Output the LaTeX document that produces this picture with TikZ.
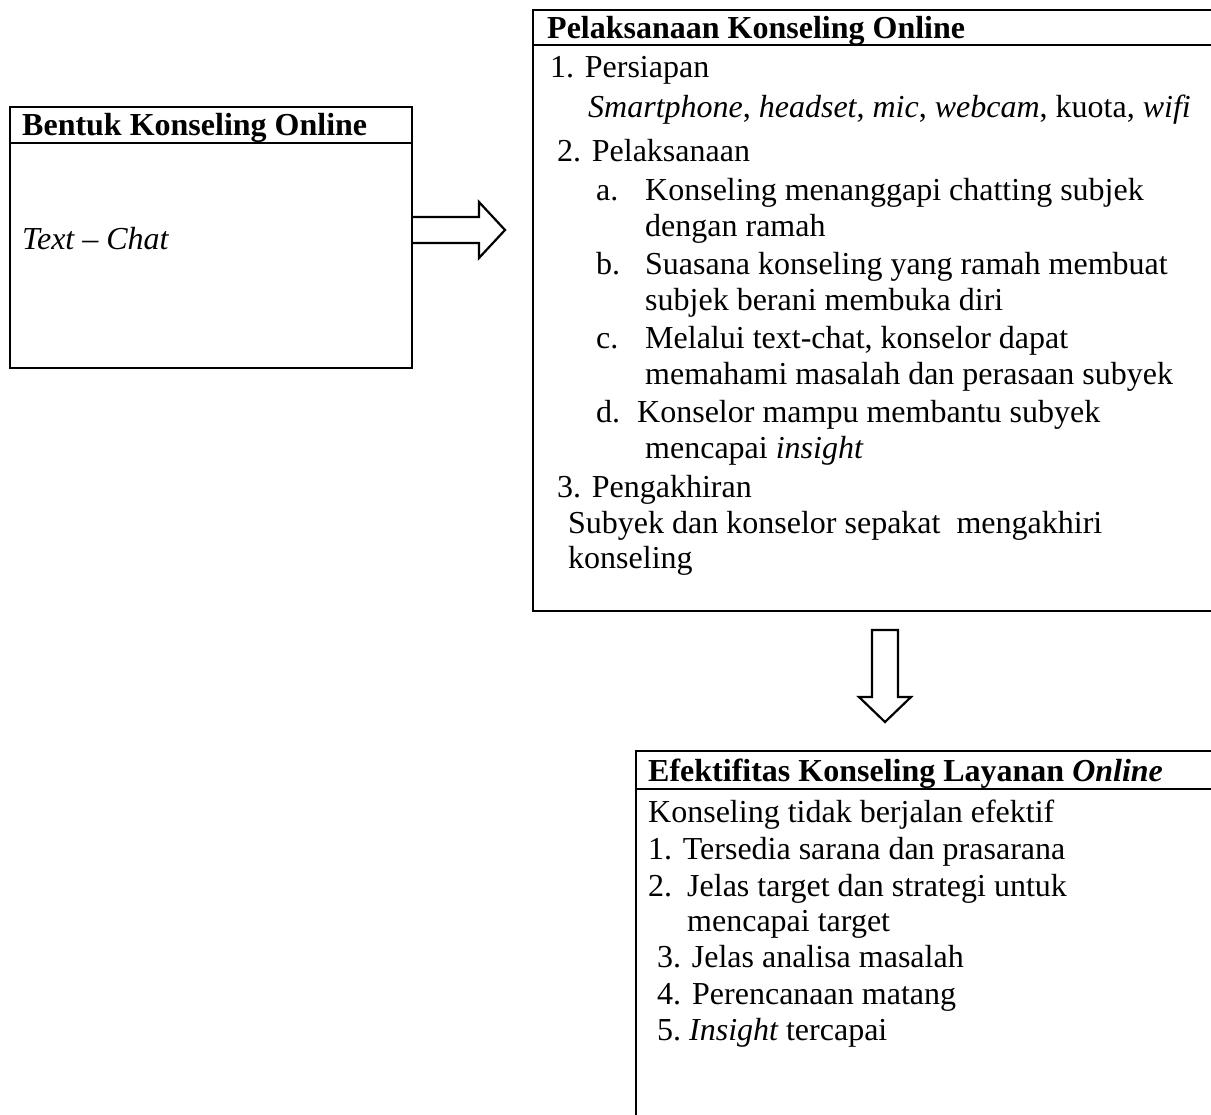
\documentclass[tikz,border=0pt]{standalone}
\usepackage{fontspec}
\setmainfont{Liberation Serif}
\begin{document}
\begin{tikzpicture}[x=1pt,y=-1pt,
  box/.style={draw, line width=2.4pt, rectangle, inner sep=0pt, anchor=north west},
  rule/.style={line width=2.4pt},
  blockarrow/.style={draw, line width=2.2pt, line join=miter},
  txt/.style={anchor=base west, inner sep=0pt, font=\fontsize{32}{36.8}\selectfont},
  head/.style={txt, font=\fontsize{32}{36.8}\selectfont\bfseries}]
\useasboundingbox (0,0) rectangle (1211,1115);
\clip (0,0) rectangle (1211,1115);

% boxes
\node[box, minimum width=402pt, minimum height=261pt] (bentuk) at (9,106) {};
\node[box, minimum width=700pt, minimum height=601pt] (pelaks) at (532,9) {};
\node[box, minimum width=600pt, minimum height=400pt] (efek) at (635,750) {};
\draw[rule] (9,143) -- (411,143);
\draw[rule] (532,45) -- (1215,45);
\draw[rule] (635,789) -- (1215,789);

% block arrows
\draw[blockarrow] (411,217) -- (479,217) -- (479,202) -- (505,230) -- (479,258) -- (479,243) -- (411,243);
\draw[blockarrow] (872,630) -- (898,630) -- (898,697) -- (911,697) -- (885,722) -- (859,697) -- (872,697) -- cycle;

% left box text
\node[head] (t1) at (22,136) {Bentuk Konseling Online};
\node[txt] (t2) at (22,250) {\itshape Text – Chat};

% middle box text
\node[head] (p0) at (547,39) {Pelaksanaan Konseling Online};
\node[txt] (p1) at (550,78) {1. Persiapan};
\node[txt] (p2) at (588,118) {\itshape Smartphone\upshape, \itshape headset\upshape, \itshape mic\upshape, \itshape webcam\upshape, kuota, \itshape wifi};
\node[txt] (p3) at (557,162) {2. Pelaksanaan};
\node[txt] (pa) at (596,201) {a.};
\node[txt] (pa1) at (645,201) {Konseling menanggapi chatting subjek};
\node[txt] (pa2) at (645,237) {dengan ramah};
\node[txt] (pb) at (596,275) {b.};
\node[txt] (pb1) at (645,275) {Suasana konseling yang ramah membuat};
\node[txt] (pb2) at (645,311) {subjek berani membuka diri};
\node[txt] (pc) at (596,349) {c.};
\node[txt] (pc1) at (645,349) {Melalui text-chat, konselor dapat};
\node[txt] (pc2) at (645,385) {memahami masalah dan perasaan subyek};
\node[txt] (pd) at (596,422) {d.};
\node[txt] (pd1) at (637,422) {Konselor mampu membantu subyek};
\node[txt] (pd2) at (645,458) {mencapai \itshape insight};
\node[txt] (p4) at (557,497) {3. Pengakhiran};
\node[txt] (p5) at (568,533) {Subyek dan konselor sepakat\ \ mengakhiri};
\node[txt] (p6) at (568,568) {konseling};

% bottom box text
\node[head] (e0) at (648,781) {Efektifitas Konseling Layanan \itshape Online};
\node[txt] (e1) at (648,822) {Konseling tidak berjalan efektif};
\node[txt] (e2) at (648,859) {1. Tersedia sarana dan prasarana};
\node[txt] (e3n) at (648,896) {2.};
\node[txt] (e3) at (687,896) {Jelas target dan strategi untuk};
\node[txt] (e4) at (687,931) {mencapai target};
\node[txt] (e5) at (657,967) {3. Jelas analisa masalah};
\node[txt] (e6n) at (657,1004) {4.};
\node[txt] (e6) at (692,1004) {Perencanaan matang};
\node[txt] (e7n) at (657,1040) {5.};
\node[txt] (e7) at (689,1040) {\itshape Insight \upshape tercapai};
\end{tikzpicture}
\end{document}
